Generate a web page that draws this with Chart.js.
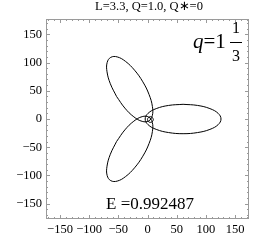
<!DOCTYPE html>
<html>
<head>
<meta charset="utf-8">
<script src="https://cdn.jsdelivr.net/npm/chart.js@4"></script>
<style>
  body { margin: 0; background: #fff; }
  canvas { display: block; }
</style>
</head>
<body>
<canvas id="chart" width="266" height="252"></canvas>
<script>
// ------------------- Data -------------------
const titleText = "L=3.3, Q=1.0, Q\u2217=0";
const energyText = "E =0.992487";
const tickValues = [-150, -100, -50, 0, 50, 100, 150];

// right leaf of the orbit
const rightX = [61, 36.1, 15.0, 0.9, -4, 0.9, 15.0, 36.1, 61, 85.9, 107.0, 121.1, 126, 121.1, 107.0, 85.9, 61];
const rightY = [26, 24.0, 18.4, 10.0, 0, -10.0, -18.4, -24.0, -26, -24.0, -18.4, -10.0, 0, 10.0, 18.4, 24.0, 26];

// upper-left leaf
const upX = [-53.0, -38.8, -23.4, -9.1, 2.0, 8.2, 8.4, 2.7, -8.0, -22.2, -37.6, -51.9, -63.0, -69.2, -69.4, -63.7, -53.0];
const upY = [39.8, 19.3, 3.8, -4.2, -3.5, 5.8, 22.2, 43.3, 65.8, 86.4, 101.9, 109.9, 109.1, 99.9, 83.5, 62.4, 39.8];

// lower-left leaf
const lowX = [-53.0, -38.8, -23.4, -9.1, 2.0, 8.2, 8.4, 2.7, -8.0, -22.2, -37.6, -51.9, -63.0, -69.2, -69.4, -63.7, -53.0];
const lowY = [-39.8, -19.3, -3.8, 4.2, 3.5, -5.8, -22.2, -43.3, -65.8, -86.4, -101.9, -109.9, -109.1, -99.9, -83.5, -62.4, -39.8];

// little whirl near the centre
const whirlX = [10, 8.5, 5, 1.5, 0, 1.5, 5, 8.5, 10];
const whirlY = [-1, 2.5, 4, 2.5, -1, -4.5, -6, -4.5, -1];

// ------------------- Helpers -------------------
function toPoints(xs, ys){
  return xs.map((x,i)=>({ x, y: ys[i] }));
}

function fmt(v){
  return v < 0 ? "\u2212" + Math.abs(v) : String(v);
}

function curve(xs, ys){
  return {
    data: toPoints(xs, ys),
    showLine: true,
    borderColor: "#000",
    borderWidth: 1,
    pointRadius: 0,
    tension: 0.4
  };
}

// frame, inward ticks and the text labels
const framePlugin = {
  id: "frame",
  afterDraw(chart){
    const ctx = chart.ctx;
    const a = chart.chartArea;
    const xs = chart.scales.x;
    const ys = chart.scales.y;
    ctx.save();
    ctx.strokeStyle = "#9a9a9a";
    ctx.lineWidth = 1;
    ctx.strokeRect(a.left + 0.5, a.top + 0.5, a.right - a.left - 1, a.bottom - a.top - 1);
    ctx.beginPath();
    xs.ticks.forEach(t=>{
      const px = Math.round(xs.getPixelForValue(t.value)) + 0.5;
      const len = t.value % 50 === 0 ? 4 : 2;
      ctx.moveTo(px, a.bottom); ctx.lineTo(px, a.bottom - len);
      ctx.moveTo(px, a.top); ctx.lineTo(px, a.top + len);
    });
    ys.ticks.forEach(t=>{
      const py = Math.round(ys.getPixelForValue(t.value)) + 0.5;
      const len = t.value % 50 === 0 ? 4 : 2;
      ctx.moveTo(a.left, py); ctx.lineTo(a.left + len, py);
      ctx.moveTo(a.right, py); ctx.lineTo(a.right - len, py);
    });
    ctx.stroke();

    ctx.fillStyle = "#000";
    ctx.textBaseline = "alphabetic";
    ctx.textAlign = "center";
    ctx.font = '12.5px "Liberation Serif"';
    ctx.fillText(titleText, 149, 10);

    ctx.textAlign = "left";
    ctx.font = 'italic 21px "Liberation Serif"';
    ctx.fillText("q", 193, 48);
    const wq = ctx.measureText("q").width;
    ctx.font = '21px "Liberation Serif"';
    ctx.fillText("=1", 193 + wq, 48);

    ctx.textAlign = "center";
    ctx.font = '16px "Liberation Serif"';
    ctx.fillText("1", 236, 33);
    ctx.fillText("3", 236, 61);
    ctx.fillRect(230, 42, 12, 1);

    ctx.textAlign = "left";
    ctx.font = '17px "Liberation Serif"';
    ctx.fillText(energyText, 106, 209);
    ctx.restore();
  }
};

// ------------------- Chart -------------------
Chart.defaults.font.family = '"Liberation Serif"';
Chart.defaults.color = "#000";

new Chart(document.getElementById("chart"), {
  type: "scatter",
  data: {
    datasets: [
      curve(rightX, rightY),
      curve(upX, upY),
      curve(lowX, lowY),
      curve(whirlX, whirlY)
    ]
  },
  options: {
    responsive: false,
    animation: false,
    layout: { padding: { top: 19, right: 17, bottom: 0, left: 0 } },
    plugins: { legend: { display: false }, tooltip: { enabled: false } },
    scales: {
      x: {
        min: -174, max: 174,
        grid: { display: false, drawTicks: false },
        border: { display: false },
        ticks: {
          stepSize: 10, includeBounds: false, autoSkip: false, maxRotation: 0,
          padding: 3, font: { size: 12.5 },
          callback: v => tickValues.includes(v) ? fmt(v) : ""
        },
        afterFit: s => { s.height = 33; }
      },
      y: {
        min: -177, max: 177,
        grid: { display: false, drawTicks: false },
        border: { display: false },
        ticks: {
          stepSize: 10, includeBounds: false, autoSkip: false,
          padding: 4, font: { size: 12.5 },
          callback: v => tickValues.includes(v) ? fmt(v) : ""
        },
        afterFit: s => { s.width = 46; }
      }
    }
  },
  plugins: [framePlugin]
});
</script>
</body>
</html>
